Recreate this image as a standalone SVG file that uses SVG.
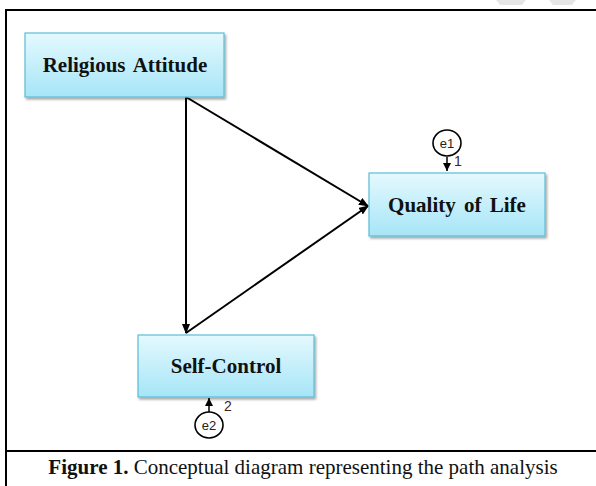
<svg xmlns="http://www.w3.org/2000/svg" width="596" height="486" viewBox="0 0 596 486">
<defs>
<linearGradient id="boxg" x1="0" y1="0" x2="0" y2="1">
<stop offset="0" stop-color="#e4f9fe"/>
<stop offset="1" stop-color="#a6e5f7"/>
</linearGradient>
<filter id="sh" x="-10%" y="-10%" width="130%" height="140%">
<feDropShadow dx="1.5" dy="2" stdDeviation="1.2" flood-color="#000" flood-opacity="0.35"/>
</filter>
<marker id="ah" markerWidth="10" markerHeight="8" refX="9" refY="4" orient="auto" markerUnits="userSpaceOnUse">
<path d="M0,0 L10,4 L0,8 Z" fill="#000"/>
</marker>
<marker id="ahs" markerWidth="8" markerHeight="8" refX="8" refY="4" orient="auto" markerUnits="userSpaceOnUse">
<path d="M0,0 L8,4 L0,8 Z" fill="#000"/>
</marker>
</defs>
<style>
.box{fill:url(#boxg);stroke:#5bbdd6;stroke-width:1.2;filter:url(#sh);}
.lbl{font-family:"Liberation Serif","Times New Roman",serif;font-weight:bold;font-size:21px;fill:#111;text-anchor:middle;word-spacing:3px;}
.conn{stroke:#000;stroke-width:2;fill:none;marker-end:url(#ah);}
.err{fill:#fff;stroke:#000;stroke-width:1.6;}
.errt{font-family:"Liberation Sans",Arial,sans-serif;font-size:13px;fill:#222;text-anchor:middle;}
.num{font-family:"Liberation Sans",Arial,sans-serif;font-size:14px;fill:#3a2a1a;}
.frame{stroke:#000;stroke-width:2;fill:none;}
</style>
<rect width="596" height="486" fill="#fff"/>
<polygon points="496,0 526,0 522,5 500,5" fill="#e6e6e6"/>
<polygon points="549,0 576,0 572,5 553,5" fill="#e6e6e6"/>
<g id="frame">
<path class="frame" d="M6,486 L6,10 L596,10"/>
<line class="frame" x1="6" y1="451" x2="596" y2="451"/>
</g>
<g id="connectors">
<line class="conn" x1="186" y1="97" x2="186" y2="333"/>
<line class="conn" x1="186" y1="97" x2="368" y2="206"/>
<line class="conn" x1="186" y1="333" x2="368" y2="206"/>
<line stroke="#000" stroke-width="1.5" x1="447" y1="157" x2="447" y2="171" marker-end="url(#ahs)"/>
<line stroke="#000" stroke-width="1.5" x1="209" y1="412" x2="209" y2="398" marker-end="url(#ahs)"/>
</g>
<g id="religious-attitude">
<rect class="box" x="25" y="33" width="199" height="64"/>
<text class="lbl" x="125" y="72">Religious Attitude</text>
</g>
<g id="quality-of-life">
<rect class="box" x="369" y="173" width="176" height="63"/>
<text class="lbl" x="457" y="212">Quality of Life</text>
</g>
<g id="self-control">
<rect class="box" x="138" y="335" width="176" height="62"/>
<text class="lbl" x="226" y="373">Self-Control</text>
</g>
<g id="e1">
<ellipse class="err" cx="447" cy="143" rx="14" ry="13"/>
<text class="errt" x="447" y="147.5">e1</text>
<text class="num" x="454" y="166">1</text>
</g>
<g id="e2">
<ellipse class="err" cx="209" cy="425" rx="14" ry="13"/>
<text class="errt" x="209" y="429.5">e2</text>
<text class="num" x="224" y="411">2</text>
</g>
<g id="caption">
<text x="303" y="474" font-family="'Liberation Serif','Times New Roman',serif" font-size="21" fill="#111" text-anchor="middle"><tspan font-weight="bold">Figure 1.</tspan> Conceptual diagram representing the path analysis</text>
</g>
</svg>
